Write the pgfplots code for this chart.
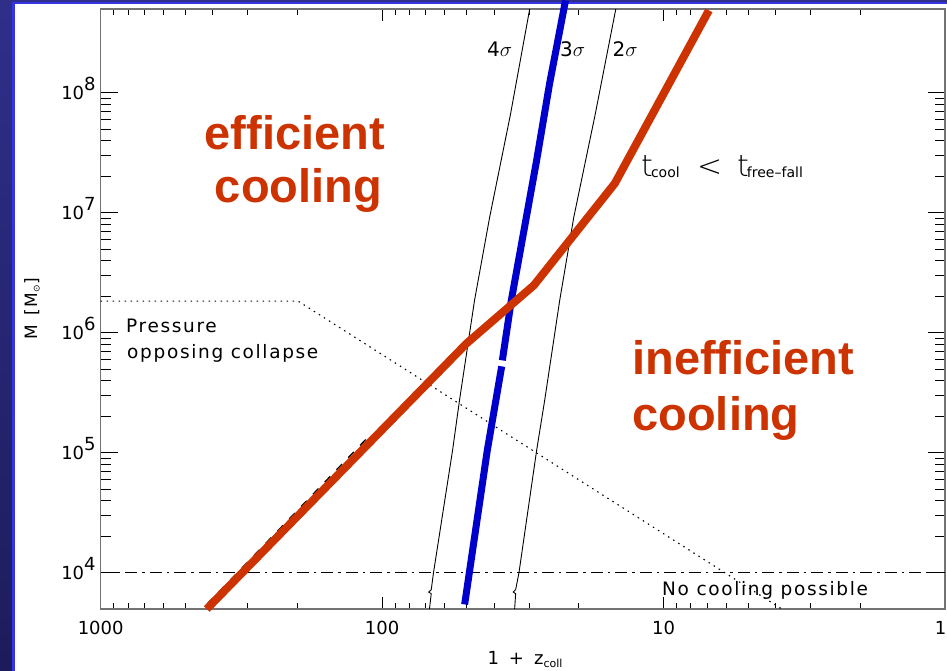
\documentclass[border=0pt]{standalone}
\usepackage{fontspec}
\setmainfont{DejaVu Sans}
\newfontfamily\hfont[LetterSpace=9]{DejaVu Sans}
\newfontfamily\hnum{DejaVu Sans}
\newfontfamily\hlight{DejaVu Sans ExtraLight}
\newfontfamily\hsub{DejaVu Sans}
\newfontfamily\slidebold{Liberation Sans}
\usepackage{pgfplots}
\pgfplotsset{compat=1.18}

\definecolor{coolred}{HTML}{CC3300}
\definecolor{sigblue}{HTML}{0000CC}
\definecolor{slidetop}{HTML}{2F2F8A}
\definecolor{slidebot}{HTML}{1C1C5C}
\definecolor{frameblue}{HTML}{3434E6}

% power-of-ten tick label, exponent at full size
\newcommand{\dex}[1]{10\smash{\raisebox{0.52em}{#1}}}

\begin{document}
\begin{tikzpicture}[x=1pt,y=1pt]
\useasboundingbox (0,0) rectangle (947,670);
\clip (0,0) rectangle (947,670);
% slide background and white panel
\shade[top color=slidetop, bottom color=slidebot] (0,0) rectangle (947,670);
\fill[white] (13.5,-5) rectangle (960,667);
\draw[frameblue, line width=2.5pt] (13.5,-5) -- (13.5,667) -- (960,667);

\begin{axis}[
  at={(100.7pt,61pt)}, anchor=south west,
  scale only axis, width=844.3pt, height=600pt,
  xmode=log, ymode=log, x dir=reverse,
  xmin=1, xmax=1000, ymin=5000, ymax=5e8,
  xtick={1,10,100,1000}, xticklabels={1\rule{9pt}{0pt},10,100,1000},
  ytick={1e4,1e5,1e6,1e7,1e8},
  yticklabels={\dex{4},\dex{5},\dex{6},\dex{7},\dex{8}},
  /pgf/number format/assume math mode=true,
  tick align=inside,
  major tick length=17pt, minor tick length=10pt,
  every major x tick/.append style={/pgfplots/major tick length=12pt},
  every minor x tick/.append style={/pgfplots/minor tick length=6pt},
  axis line style={black!55, line width=1.5pt},
  tick style={black, line width=0.8pt},
  ticklabel style={font=\hnum\fontsize{18}{18}\selectfont},
  xticklabel style={yshift=-9pt},
  yticklabel style={xshift=-1.5pt},
  xlabel={\hnum\fontsize{18}{18}\selectfont 1\hspace{10pt}+\hspace{10pt}z\raisebox{-3pt}{\hsub\fontsize{11}{11}\selectfont coll}},
  xlabel style={at={(axis description cs:0.5025,-0.0933)}, anchor=base},
  ylabel={\hfont\fontsize{17}{17}\selectfont M\hspace{3pt} [M\raisebox{-2.5pt}{\hsub\fontsize{9}{9}\selectfont ⊙}]},
  ylabel style={at={(axis description cs:-0.0814,0.5)}, anchor=center},
  clip=false,
]

% no cooling possible below this mass
\addplot[black, line width=0.9pt, dash pattern=on 12pt off 5pt on 2.5pt off 5pt]
  coordinates {(1000,1e4) (1,1e4)};

% pressure opposing collapse
\addplot[black, line width=1.1pt, dash pattern=on 1.5pt off 4.5pt]
  coordinates {(1000,1.84e6) (199,1.84e6) (3.8,5000)};

% 4 sigma and 2 sigma collapse curves
\addplot[black, line width=0.9pt] coordinates {
  (29.9,5e8) (35.0,6.6e7) (41.5,9.17e6) (46.95,1.866e6) (53.1,2.74e5) (56.2,1.049e5)
  (65.7,1e4) (66.9,7244) (68.3,6918) (66.9,6708) (67.9,5000)};
\addplot[black, line width=0.9pt] coordinates {
  (14.78,5e8) (17.5,6.6e7) (20.85,9.17e6) (23.39,1.866e6) (26.45,2.74e5) (28.25,1.049e5)
  (32.65,1e4) (33.54,7244) (34.2,6918) (33.54,6708) (33.82,5000)};

% 3 sigma collapse curve
\addplot[sigblue, line width=7pt] coordinates {
  (22.3,5.9e8) (25.4,1.2e8) (28.25,2.74e7) (34.75,1.866e6) (37.4,5.90e5)};
\addplot[sigblue, line width=7pt] coordinates {
  (37.6,5.26e5) (42.3,1.049e5) (50.9,5.46e3)};

% virial temperature limit (dashed)
\addplot[black, line width=1.3pt, dash pattern=on 8pt off 9pt]
  coordinates {(420,5450) (110,1.42e5)};

% t_cool = t_free-fall
\addplot[coolred, line width=8pt] coordinates {
  (420,5000) (50.1,8.17e5) (28.9,2.49e6) (14.9,1.76e7) (6.9,4.87e8)};

% region labels
\begin{scope}[every node/.style={inner sep=0, text=coolred,
    font=\slidebold\bfseries\fontsize{47}{47}\selectfont}]
\node[anchor=base] at (rel axis cs:0.2301,0.765) {efficient};
\node[anchor=base] at (rel axis cs:0.2343,0.6783) {cooling};
\node[anchor=base west] at (rel axis cs:0.6295,0.39) {inefficient};
\node[anchor=base west] at (rel axis cs:0.6295,0.2983) {cooling};
\end{scope}

\begin{scope}[every node/.style={inner sep=0, anchor=base west,
    font=\hfont\fontsize{18.5}{18.5}\selectfont}]
\node at (rel axis cs:0.030,0.4605) {Pressure};
\node at (rel axis cs:0.0312,0.4178) {opposing collapse};
\node at (rel axis cs:0.6648,0.0222) {No cooling possible};
\node[font=\hfont\fontsize{20}{20}\selectfont] at (rel axis cs:0.4575,0.92) {4$\sigma$};
\node[font=\hfont\fontsize{20}{20}\selectfont] at (rel axis cs:0.544,0.92) {3$\sigma$};
\node[font=\hfont\fontsize{20}{20}\selectfont] at (rel axis cs:0.6062,0.92) {2$\sigma$};
\node[font=\hlight\fontsize{30}{30}\selectfont] at (rel axis cs:0.640,0.72)
  {t\hspace{-2pt}\raisebox{-1pt}{\hsub\fontsize{14}{14}\selectfont cool}};
\node[font=\hlight\fontsize{30}{30}\selectfont] at (rel axis cs:0.7062,0.72) {<};
\node[font=\hlight\fontsize{30}{30}\selectfont] at (rel axis cs:0.7537,0.72)
  {t\hspace{-2pt}\raisebox{-1pt}{\hsub\fontsize{14}{14}\selectfont free–fall}};
\end{scope}

\end{axis}
\end{tikzpicture}
\end{document}
